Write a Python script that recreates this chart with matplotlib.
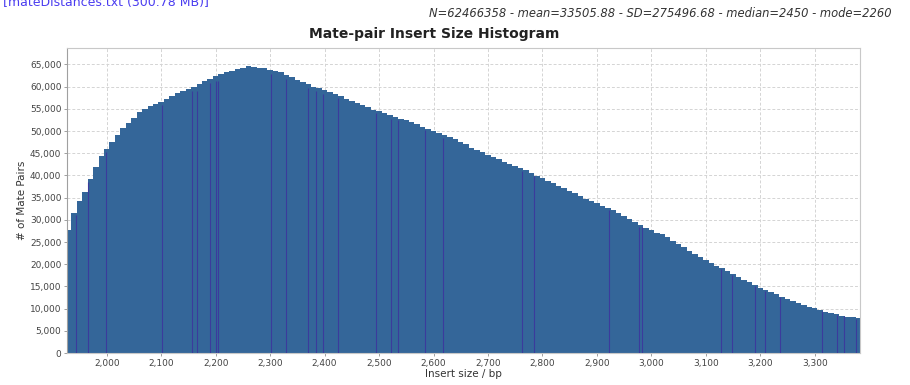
import numpy as np
import matplotlib
matplotlib.use("Agg")
import matplotlib.pyplot as plt
from matplotlib.ticker import FuncFormatter, MultipleLocator

# insert size bins (bp, bin centres, 10 bp wide) and pair counts per bin
insert_bp = list(range(1930, 3381, 10))
pair_counts = [
    27800, 31500, 34200, 36300, 39200, 41800, 44300, 46000, 47500, 49200,
    50600, 51800, 53000, 54200, 54900, 55600, 56000, 56600, 57300, 58000,
    58600, 59100, 59500, 60000, 60600, 61200, 61800, 62300, 62800, 63300,
    63600, 64000, 64300, 64600, 64400, 64300, 64200, 63800, 63500, 63200,
    62700, 62100, 61500, 61000, 60500, 60000, 59600, 59200, 58700, 58300,
    57800, 57200, 56800, 56300, 55800, 55300, 54800, 54500, 54100, 53600,
    53200, 52800, 52400, 52000, 51600, 51000, 50500, 50100, 49600, 49100,
    48700, 48100, 47600, 47000, 46200, 45800, 45200, 44700, 44200, 43600,
    43100, 42600, 42200, 41700, 41200, 40500, 39900, 39400, 38800, 38200,
    37600, 37100, 36600, 36000, 35400, 34800, 34200, 33700, 33200, 32700,
    32100, 31500, 30900, 30200, 29500, 28800, 28200, 27600, 27100, 26700,
    26100, 25300, 24500, 23800, 23000, 22300, 21600, 21000, 20300, 19700,
    19100, 18400, 17900, 17200, 16500, 15900, 15300, 14700, 14200, 13700,
    13200, 12700, 12200, 11700, 11200, 10800, 10400, 10100, 9700, 9300,
    9000, 8700, 8400, 8200, 8000, 7800,
]

# single-bp bars whose dark outlines show through
outlined_bp = [1943, 1966, 1998, 2102, 2157, 2165, 2190, 2200, 2204, 2302,
               2329, 2370, 2385, 2397, 2424, 2494, 2522, 2535, 2585, 2617,
               2763, 2784, 2922, 2977, 2983, 3128, 3148, 3190, 3208, 3237,
               3313, 3340, 3353, 3376]

source_label = "[mateDistances.txt (300.78 MB)]"
stats_label = ("N=62466358 - mean=33505.88 - SD=275496.68 - "
               "median=2450 - mode=2260")
title = "Mate-pair Insert Size Histogram"

bar_color = "#346699"
outline_color = "#3b3b9c"

fig = plt.figure(figsize=(9.1, 3.85), dpi=100)
ax = fig.add_axes([0.0736, 0.0831, 0.8714, 0.7922])

ax.bar(insert_bp, pair_counts, width=10, color=bar_color, linewidth=0,
       align="center", zorder=2)

# darker outline strokes, each up to the height of its bin
centres = np.array(insert_bp)
counts = np.array(pair_counts)
for bp in outlined_bp:
    h = counts[np.argmin(np.abs(centres - bp))]
    ax.vlines(bp, 0, h * 0.985, color=outline_color, linewidth=0.8, zorder=3)

ax.set_xlim(1927, 3383)
ax.set_ylim(0, 68700)
ax.xaxis.set_major_locator(MultipleLocator(100))
ax.yaxis.set_major_locator(MultipleLocator(5000))
ax.xaxis.set_major_formatter(FuncFormatter(lambda v, p: f"{int(v):,}"))
ax.yaxis.set_major_formatter(FuncFormatter(lambda v, p: f"{int(v):,}"))

ax.set_axisbelow(True)
ax.grid(True, color="#d4d4d4", linestyle=(0, (3, 2)), linewidth=0.7)
for side in ("top", "right", "bottom"):
    ax.spines[side].set_color("#c8c8c8")
ax.spines["left"].set_color("#a0a0a0")
ax.tick_params(axis="both", labelsize=6.5, colors="#444444", length=2,
               width=0.6, pad=2)
ax.tick_params(axis="both", color="#909090")

ax.set_xlabel("Insert size / bp", fontsize=7.5, color="#333333", labelpad=1)
ax.set_ylabel("# of Mate Pairs", fontsize=7.5, color="#333333", labelpad=2)

fig.text(0.477, 0.912, title, ha="center", va="center", fontsize=10,
         fontweight="bold", color="#222222")
fig.text(0.980, 0.964, stats_label, ha="right", va="center", fontsize=8.3,
         style="italic", color="#333333")
fig.text(0.003, 0.993, source_label, ha="left", va="center", fontsize=9,
         color="#4a3cf0")

fig.savefig("out.png", dpi=100)
